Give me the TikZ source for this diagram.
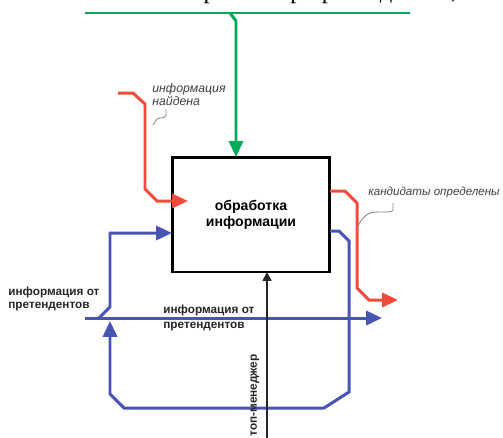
\documentclass[tikz,border=0pt]{standalone}
\usepackage{fontspec}
\setmainfont{Liberation Serif}
\setsansfont{Liberation Sans}
\usetikzlibrary{arrows.meta}
\definecolor{idefgreen}{RGB}{0,168,89}
\definecolor{idefred}{RGB}{240,75,60}
\definecolor{idefblue}{RGB}{72,84,178}

\begin{document}
\begin{tikzpicture}[x=0.02cm, y=-0.02cm,
    flow/.style={line width=1.7pt},
    tip/.style={-{Triangle[length=9pt,width=8pt]}},
    lbl/.style={font=\sffamily\bfseries\fontsize{6.7}{7}\selectfont, align=left, text=black!85, inner sep=0pt},
    note/.style={font=\sffamily\itshape\fontsize{7}{7.6}\selectfont, align=left, text=black!75, inner sep=0pt},
    squig/.style={draw=black!45, line width=0.5pt}]
    \useasboundingbox (0,0) rectangle (503,437);
    % Title (cut off at the top)
    \node[anchor=base west, font=\fontsize{14}{16}\selectfont, inner sep=0pt] (Title) at (150,-2) {Отбор и набор претендентов,};
    % Function box
    \node[draw, line width=1.7pt, minimum width=3.16cm, minimum height=2.3cm,
        font=\sffamily\bfseries\fontsize{8}{9}\selectfont, align=center]
        (Box) at (251,214.5) {обработка\\информации};
    % End points
    \coordinate (Ctrl-1) at (85,13);
    \coordinate (Ctrl-2) at (410,13);
    \coordinate (Ctrl-in) at (236,157);
    \coordinate (Red-1) at (118,93);
    \coordinate (Red-in) at (188,201);
    \coordinate (Red-out) at (330,191);
    \coordinate (Red-2) at (398,300);
    \coordinate (Blue-1) at (85,318);
    \coordinate (Blue-2) at (382,318);
    \coordinate (Blue-in) at (172,233);
    \coordinate (Blue-out) at (330,231);
    \coordinate (Blue-back) at (110,321);
    \coordinate (Mech-1) at (267,440);
    \coordinate (Mech-in) at (267,272);
    % Control
    \draw[flow, idefgreen] (Ctrl-1) -- (Ctrl-2);
    \draw[flow, idefgreen, tip] (230,13) -- (236,21) -- (Ctrl-in);
    % Inputs
    \draw[flow, idefred, tip] (Red-1) -- (133,93) -- (145,104) -- (145,189) -- (157,201) -- (Red-in);
    \draw[flow, idefblue, tip] (Blue-1) -- (Blue-2);
    \draw[flow, idefblue, tip] (99,318) -- (110,307) -- (110,233) -- (Blue-in);
    % Outputs
    \draw[flow, idefred, tip] (Red-out) -- (345,191) -- (357,203) -- (357,288) -- (369,300) -- (Red-2);
    \draw[flow, idefblue, tip] (Blue-out) -- (339,231) -- (349,241) -- (349,392) -- (324,408)
        -- (124,408) -- (110,394) -- (Blue-back);
    % Mechanism
    \draw[line width=1pt, black!85, -{Triangle[length=5pt,width=5pt]}] (Mech-1) -- (Mech-in);
    % Labels
    \node[note, anchor=north west] (Found) at (152,83) {информация\\найдена};
    \draw[squig] (166,109) -- (166,115) .. controls (165,119) and (160,117) .. (157,119) -- (153,125);
    \node[note, anchor=west, font=\sffamily\itshape\fontsize{6.6}{7.6}\selectfont] (Chosen) at (368,192) {кандидаты определены};
    \draw[squig] (393,203) -- (393,210) .. controls (392,214) and (373,210) .. (368,214)
        .. controls (362,218) and (360,222) .. (357,228);
    \node[lbl, anchor=north west] (Apps-1) at (8,287) {информация от\\претендентов};
    \node[lbl, anchor=west, font=\sffamily\bfseries\fontsize{6.7}{8.5}\selectfont] (Apps-2) at (163,318) {информация от\\претендентов};
    \node[lbl, rotate=90, anchor=east] (Manager) at (255,354) {топ-менеджер};
\end{tikzpicture}
\end{document}
